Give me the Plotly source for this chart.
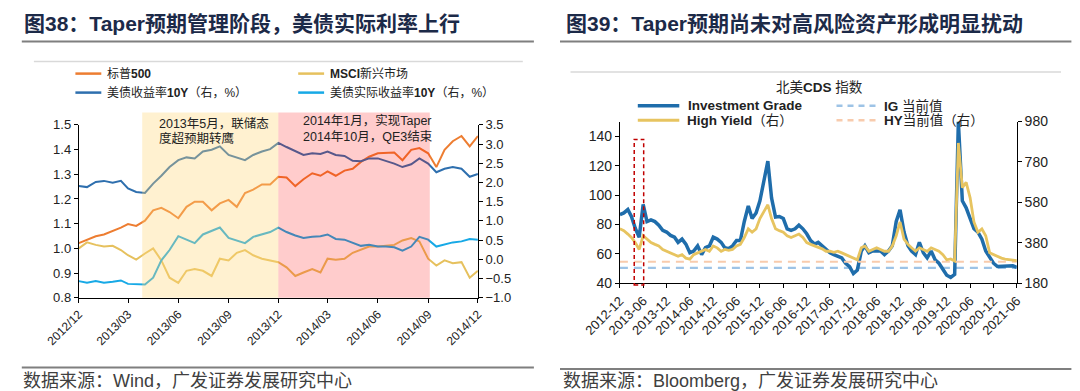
import plotly.graph_objects as go
import pandas as pd

W, H = 1080, 391

# ---------------- Left chart data (semi-monthly) ----------------
left_dates = []
for yy, mm in [(2012, 12)] + [(2013, m) for m in range(1, 13)] + [(2014, m) for m in range(1, 12)]:
    left_dates.append(f"{yy}-{mm:02d}-01")
    left_dates.append(f"{yy}-{mm:02d}-16")
left_dates.append("2014-12-01")

sp500 = [1.021, 1.035, 1.049, 1.056, 1.070, 1.084, 1.098, 1.091, 1.112, 1.154,
         1.164, 1.147, 1.122, 1.168, 1.189, 1.189, 1.154, 1.182, 1.196, 1.168,
         1.224, 1.238, 1.259, 1.259, 1.290, 1.287, 1.252, 1.280, 1.304, 1.294,
         1.312, 1.294, 1.315, 1.322, 1.350, 1.371, 1.385, 1.388, 1.388, 1.357,
         1.399, 1.406, 1.385, 1.329, 1.399, 1.434, 1.455, 1.413, 1.455]
msci_em = [1.000, 1.024, 1.014, 1.007, 1.010, 0.993, 0.972, 0.954, 0.979, 1.000,
           0.951, 0.881, 0.860, 0.909, 0.916, 0.909, 0.888, 0.958, 0.951, 0.982,
           0.993, 0.972, 0.958, 0.951, 0.944, 0.923, 0.888, 0.902, 0.916, 0.902,
           0.958, 0.954, 0.958, 0.982, 0.996, 1.007, 1.007, 1.010, 1.014, 1.032,
           1.042, 1.028, 0.958, 0.930, 0.951, 0.940, 0.944, 0.881, 0.909]
ust10y = [1.907, 1.880, 2.015, 2.042, 1.997, 2.042, 1.844, 1.754, 1.727, 1.970,
          2.177, 2.402, 2.582, 2.654, 2.627, 2.807, 2.852, 2.942, 2.717, 2.654,
          2.582, 2.717, 2.807, 2.870, 3.032, 2.924, 2.807, 2.717, 2.762, 2.744,
          2.807, 2.717, 2.690, 2.564, 2.555, 2.627, 2.627, 2.564, 2.492, 2.402,
          2.474, 2.627, 2.492, 2.267, 2.357, 2.402, 2.357, 2.150, 2.222]
real10y = [-0.568, -0.613, -0.568, -0.613, -0.586, -0.550, -0.640, -0.658, -0.658, -0.478,
           -0.028, 0.242, 0.602, 0.512, 0.422, 0.647, 0.737, 0.827, 0.557, 0.494,
           0.422, 0.584, 0.647, 0.710, 0.827, 0.710, 0.620, 0.557, 0.584, 0.602,
           0.647, 0.530, 0.512, 0.440, 0.350, 0.377, 0.332, 0.332, 0.314, 0.224,
           0.332, 0.584, 0.512, 0.332, 0.377, 0.440, 0.467, 0.530, 0.512]

left_tickvals = ["2012-12-01", "2013-03-01", "2013-06-01", "2013-09-01", "2013-12-01",
                 "2014-03-01", "2014-06-01", "2014-09-01", "2014-12-01"]
left_ticktext = ["2012/12", "2013/03", "2013/06", "2013/09", "2013/12",
                 "2014/03", "2014/06", "2014/09", "2014/12"]
shade_yellow = ("2013-03-27", "2013-12-01")
shade_red = ("2013-12-01", "2014-09-04")

# ---------------- Right chart data (monthly) ----------------
right_dates = pd.date_range("2012-12-01", "2021-06-01", freq="MS")
ig_cds = [86.6,
          87.8, 90.1, 85.4, 77.2, 71.3, 93.6, 81.9, 83.0, 81.9, 79.5, 76.0, 74.8,
          72.5, 71.3, 67.8, 70.0, 66.6, 60.7, 61.9, 65.4, 59.5, 64.2, 65.4, 71.3,
          70.0, 67.8, 64.2, 63.5, 65.4, 69.0, 69.0, 82.0, 92.5, 84.0, 87.8, 96.0,
          111.0, 123.0, 98.0, 85.0, 85.4, 84.0, 77.0, 76.0, 77.0, 79.5, 77.0, 73.6,
          69.0, 66.6, 67.8, 65.4, 63.0, 60.7, 59.5, 58.4, 57.2, 53.6, 51.3, 46.6,
          49.0, 61.9, 65.4, 60.7, 61.9, 61.9, 61.9, 59.5, 61.9, 65.4, 82.0, 90.0,
          74.8, 65.4, 61.9, 59.5, 67.8, 60.7, 57.2, 61.9, 56.0, 53.6, 49.0, 45.4,
          44.0, 46.0, 150.0, 96.0, 91.3, 84.0, 77.0, 74.8, 70.0, 61.9, 57.2, 53.6,
          51.3, 51.3, 51.8, 51.3, 51.8, 50.8]
hy_cds = [449,
          440, 423, 406, 380, 347, 415, 398, 381, 372, 364, 347, 338,
          330, 321, 313, 321, 304, 299, 321, 330, 338, 347, 338, 364,
          355, 338, 347, 343, 347, 364, 372, 406, 449, 432, 449, 500,
          534, 568, 500, 449, 440, 432, 415, 406, 415, 423, 406, 381,
          372, 364, 355, 350, 338, 338, 333, 338, 330, 321, 313, 304,
          296, 355, 364, 338, 347, 355, 347, 338, 338, 364, 415, 483,
          398, 372, 355, 338, 355, 347, 338, 355, 347, 338, 321, 296,
          300, 290, 874, 653, 679, 602, 483, 432, 449, 415, 330, 321,
          313, 304, 299, 296, 296, 292]
ig_current = 50.4
hy_current = 286
right_tickvals = pd.date_range("2012-12-01", "2021-06-01", freq="6MS")
right_ticktext = [d.strftime("%Y-%m") for d in right_tickvals]
box_dates = ("2013-03-23", "2013-06-05")

# ---------------- Styles ----------------
C_ORANGE = "#ED7D31"
C_GOLD = "#E6C15E"
C_BLUE = "#2E6FAE"
C_CYAN = "#17A9E6"
C_IG = "#1F6DAB"
C_HY = "#E7C460"
C_IGDASH = "#9DC3E6"
C_HYDASH = "#F8CBAD"
FONT = "Liberation Sans, Arial, Noto Sans CJK SC"
TITLE_C = "#1C2A48"


def fx(px):
    return px / W


def fy(py):
    return 1 - py / H


# plot areas (pixels)
L_X0, L_X1, L_Y0, L_Y1 = 70.8, 469.9, 116.9, 289.7
R_X0, R_X1, R_Y0, R_Y1 = 611.9, 1008.8, 113.5, 275.2

fig = go.Figure()

# left chart traces
fig.add_trace(go.Scatter(x=left_dates, y=sp500, mode="lines", line=dict(color=C_ORANGE, width=2),
                         xaxis="x", yaxis="y", showlegend=False))
fig.add_trace(go.Scatter(x=left_dates, y=msci_em, mode="lines", line=dict(color=C_GOLD, width=2),
                         xaxis="x", yaxis="y", showlegend=False))
fig.add_trace(go.Scatter(x=left_dates, y=ust10y, mode="lines", line=dict(color=C_BLUE, width=2),
                         xaxis="x", yaxis="y2", showlegend=False))
fig.add_trace(go.Scatter(x=left_dates, y=real10y, mode="lines", line=dict(color=C_CYAN, width=2),
                         xaxis="x", yaxis="y2", showlegend=False))

# right chart traces
rd0, rd1 = right_dates[0], right_dates[-1]
fig.add_trace(go.Scatter(x=[rd0, rd1], y=[ig_current, ig_current], mode="lines",
                         line=dict(color=C_IGDASH, width=2.2, dash="8px,6px"),
                         xaxis="x2", yaxis="y3", showlegend=False))
fig.add_trace(go.Scatter(x=[rd0, rd1], y=[hy_current, hy_current], mode="lines",
                         line=dict(color=C_HYDASH, width=2.2, dash="8px,6px"),
                         xaxis="x2", yaxis="y4", showlegend=False))
fig.add_trace(go.Scatter(x=right_dates, y=ig_cds, mode="lines", line=dict(color=C_IG, width=3.5),
                         xaxis="x2", yaxis="y3", showlegend=False))
fig.add_trace(go.Scatter(x=right_dates, y=hy_cds, mode="lines", line=dict(color=C_HY, width=2.8),
                         xaxis="x2", yaxis="y4", showlegend=False))

axis_common = dict(showgrid=False, zeroline=False, showline=True, linecolor="#000000", linewidth=1,
                   ticks="outside", ticklen=4, tickcolor="#000000", automargin=False,
                   tickfont=dict(family=FONT, size=13, color="#222222"))

fig.update_layout(
    width=W, height=H, margin=dict(l=0, r=0, t=0, b=0, pad=0, autoexpand=False),
    paper_bgcolor="white", plot_bgcolor="white", showlegend=False,
    xaxis=dict(axis_common, domain=[fx(L_X0), fx(L_X1)], anchor="y", type="date",
               range=[left_tickvals[0], left_tickvals[-1]], tickvals=left_tickvals,
               ticktext=left_ticktext, tickangle=-45,
               tickfont=dict(family=FONT, size=12, color="#222222")),
    yaxis=dict(axis_common, domain=[fy(L_Y1), fy(L_Y0)], anchor="x", range=[0.8, 1.5],
               dtick=0.1, tick0=0.8, tickformat=".1f"),
    yaxis2=dict(axis_common, overlaying="y", side="right", anchor="x", range=[-1.0, 3.5],
                dtick=0.5, tick0=-1.0, tickformat=".1f"),
    xaxis2=dict(axis_common, domain=[fx(R_X0), fx(R_X1)], anchor="y3", type="date",
                range=[rd0, rd1], tickvals=list(right_tickvals), ticktext=right_ticktext,
                tickangle=-45, tickfont=dict(family=FONT, size=13, color="#222222")),
    yaxis3=dict(axis_common, domain=[fy(R_Y1), fy(R_Y0)], anchor="x2", range=[40, 150],
                tickvals=[40, 60, 80, 100, 120, 140],
                tickfont=dict(family=FONT, size=14, color="#222222")),
    yaxis4=dict(axis_common, overlaying="y3", side="right", anchor="x2", range=[180, 980],
                tickvals=[180, 380, 580, 780, 980],
                tickfont=dict(family=FONT, size=14, color="#222222")),
)

shapes = []
# shaded periods (drawn over the lines, translucent)
shapes.append(dict(type="rect", xref="x", yref="paper", x0=shade_yellow[0], x1=shade_yellow[1],
                   y0=fy(L_Y1), y1=fy(104.5), fillcolor="rgb(255,215,120)", opacity=0.35,
                   line=dict(width=0), layer="above"))
shapes.append(dict(type="rect", xref="x", yref="paper", x0=shade_red[0], x1=shade_red[1],
                   y0=fy(L_Y1), y1=fy(104.5), fillcolor="rgb(255,0,0)", opacity=0.2,
                   line=dict(width=0), layer="above"))
# red dashed box on right chart
shapes.append(dict(type="rect", xref="x2", yref="paper", x0=box_dates[0], x1=box_dates[1],
                   y0=fy(276.9), y1=fy(131.4), fillcolor="rgba(0,0,0,0)",
                   line=dict(color="#C00000", width=1.5, dash="4px,3px"), layer="above"))


def hline(x0, x1, y, color, width, dash=None):
    ln = dict(color=color, width=width)
    if dash:
        ln["dash"] = dash
    shapes.append(dict(type="line", xref="paper", yref="paper", x0=fx(x0), x1=fx(x1),
                       y0=fy(y), y1=fy(y), line=ln))


# frame lines
hline(13.8, 525.9, 33.5, "#7F7F7F", 2)
hline(552, 1063.4, 33.5, "#7F7F7F", 2)
hline(25.9, 514.8, 53.6, "#D9D9D9", 1.5)
hline(562.5, 1053, 63.9, "#D9D9D9", 1.5)
hline(13.8, 525.9, 359.5, "#7F7F7F", 2)
hline(552, 1063.4, 361, "#7F7F7F", 2)

# legend swatches left
hline(67.4, 93.3, 65.6, C_ORANGE, 2.5)
hline(290.2, 316.1, 65.6, C_GOLD, 2.5)
hline(67.4, 93.3, 84.6, C_BLUE, 2.5)
hline(290.2, 316.1, 84.6, C_CYAN, 2.5)
# legend swatches right
hline(629.8, 671.3, 97.8, C_IG, 3.5)
hline(828.5, 870, 97.8, C_IGDASH, 2.5, "6px,5px")
hline(629.8, 671.3, 112.3, C_HY, 3)
hline(828.5, 870, 112.3, C_HYDASH, 2.5, "6px,5px")

fig.update_layout(shapes=shapes)

annotations = []


def text(x, y, s, size, color="#222222", anchor="left", bold=False):
    annotations.append(dict(xref="paper", yref="paper", x=fx(x), y=fy(y), text=(f"<b>{s}</b>" if bold else s),
                            showarrow=False, xanchor=anchor, yanchor="middle",
                            font=dict(family=FONT, size=size, color=color)))


text(13.8, 15.5, "图38：Taper预期管理阶段，美债实际利率上行", 21, TITLE_C, bold=True)
text(555.5, 15.5, "图39：Taper预期尚未对高风险资产形成明显扰动", 21, TITLE_C, bold=True)

text(96.7, 65.6, "标普<b>500</b>", 12)
text(319.6, 65.6, "<b>MSCI</b>新兴市场", 12)
text(96.7, 84.6, "美债收益率<b>10Y</b>（右，%）", 12)
text(319.6, 84.6, "美债实际收益率<b>10Y</b>（右，%）", 12)

text(149.3, 115, "2013年5月，联储态", 12.5)
text(149.3, 130.7, "度超预期转鹰", 12.5)
text(292.7, 112.5, "2014年1月，实现Taper", 12.5)
text(292.7, 128.8, "2014年10月，QE3结束", 12.5)

text(811, 80, "北美<b>CDS</b> 指数", 13.5, "#222222", anchor="center")
text(678, 97.8, "<b>Investment Grade</b>", 13.5, "#222222")
text(874.4, 97.8, "<b>IG</b> 当前值", 13.5, "#222222")
text(676.5, 112.3, "<b>High Yield</b>（右）", 13.5, "#222222")
text(874.4, 112.3, "<b>HY</b>当前值（右）", 13.5, "#222222")

text(13.3, 373, "数据来源：Wind，广发证券发展研究中心", 18, "#404040")
text(553, 373, "数据来源：Bloomberg，广发证券发展研究中心", 18, "#404040")

fig.update_layout(annotations=annotations)

fig.write_html("out.html")
